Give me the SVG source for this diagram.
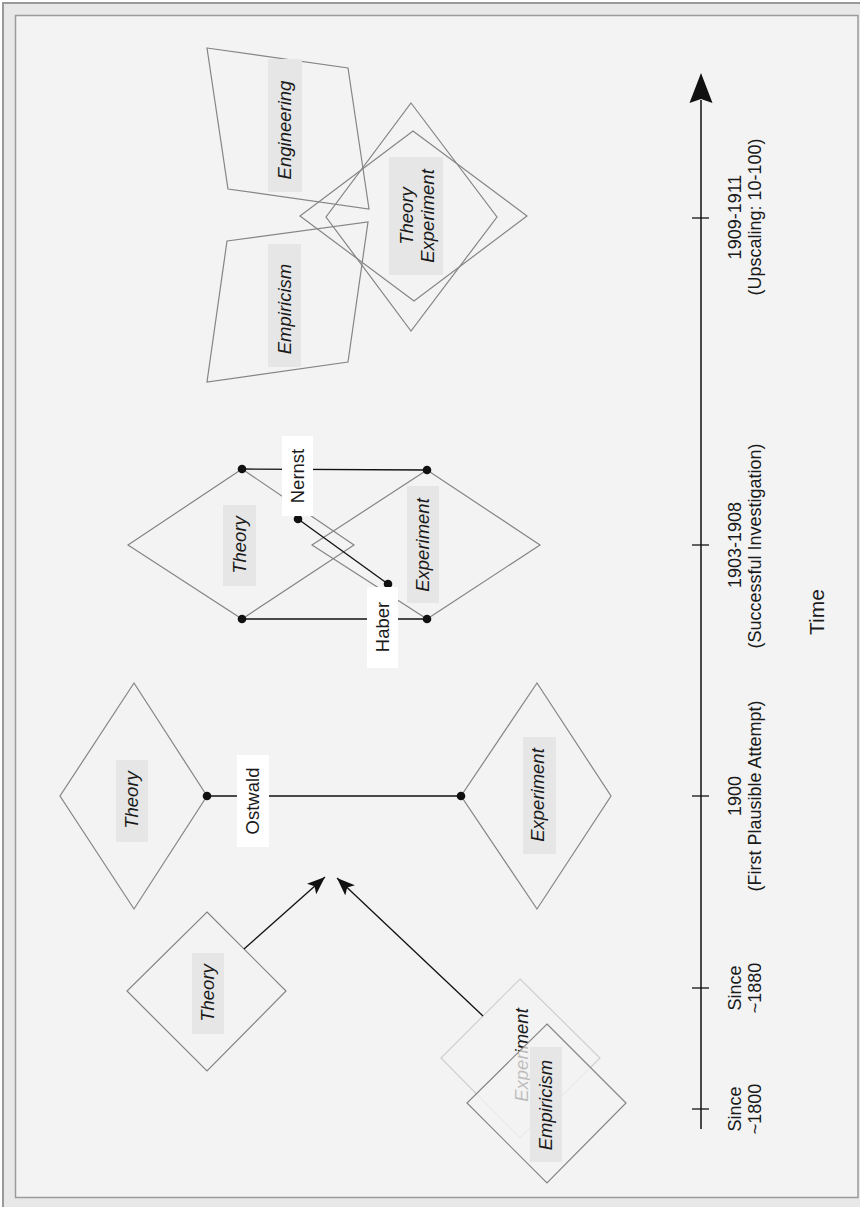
<svg xmlns="http://www.w3.org/2000/svg" width="860" height="1207" viewBox="0 0 860 1207">
<style>
.shape{fill:none;stroke:#858585;stroke-width:1.2}
.faded{fill:none;stroke:#cfcfcf;stroke-width:1.2}
.lbl{fill:#e6e6e6}
.wlbl{fill:#ffffff}
.t{font-family:"Liberation Sans",Arial,sans-serif;font-size:18.5px;fill:#1a1a1a;text-anchor:middle}
.it{font-style:italic}
.ax{font-family:"Liberation Sans",Arial,sans-serif;font-size:18px;fill:#1a1a1a;text-anchor:middle}
.conn{stroke:#111;stroke-width:1.3;fill:none}
.dot{fill:#111}
</style>
<defs>
<marker id="arr" markerWidth="20" markerHeight="16" refX="18" refY="7" orient="auto" markerUnits="userSpaceOnUse">
<path d="M0,0 L18,7 L0,14 L4,7 z" fill="#111"/>
</marker>
</defs>
<rect x="3" y="3" width="870" height="1220" fill="#e8e8e8" stroke="#9a9a9a" stroke-width="2"/>
<rect x="15.5" y="15.5" width="842.5" height="1182" fill="#f3f3f3" stroke="#9a9a9a" stroke-width="1.5"/>

<g id="axis">
<line x1="701" y1="100" x2="701" y2="1129" stroke="#111" stroke-width="1.5"/>
<path d="M701,73 L712.5,103 L701,99 L689.5,103 z" fill="#111"/>
<g stroke="#111" stroke-width="1.3">
<line x1="692" y1="218" x2="709" y2="218"/>
<line x1="692" y1="545" x2="709" y2="545"/>
<line x1="692" y1="796" x2="709" y2="796"/>
<line x1="692" y1="988" x2="709" y2="988"/>
<line x1="692" y1="1109" x2="709" y2="1109"/>
</g>
<g class="ax">
<text transform="translate(735,217) rotate(-90)" dy="0.35em">1909-1911</text>
<text transform="translate(755,217) rotate(-90)" dy="0.35em">(Upscaling: 10-100)</text>
<text transform="translate(735,545) rotate(-90)" dy="0.35em">1903-1908</text>
<text transform="translate(755,546) rotate(-90)" dy="0.35em">(Successful Investigation)</text>
<text transform="translate(735,796) rotate(-90)" dy="0.35em">1900</text>
<text transform="translate(755,796) rotate(-90)" dy="0.35em">(First Plausible Attempt)</text>
<text transform="translate(735,988) rotate(-90)" dy="0.35em">Since</text>
<text transform="translate(755,988) rotate(-90)" dy="0.35em">~1880</text>
<text transform="translate(735,1109) rotate(-90)" dy="0.35em">Since</text>
<text transform="translate(755,1109) rotate(-90)" dy="0.35em">~1800</text>
<text transform="translate(817,612) rotate(-90)" dy="0.35em" style="font-size:21px">Time</text>
</g>
</g>

<!-- 1800/1880 -->
<g id="experiment-1800">
<polygon class="faded" points="520,979 600,1058 520,1138 441,1058"/>
<text class="t it" transform="translate(522,1055) rotate(-90)" dy="0.35em">Experiment</text>
</g>
<g id="empiricism-1800">
<polygon points="547,1024 626,1103 547,1183 467,1103" fill="#f3f3f3" fill-opacity="0.75" stroke="#858585" stroke-width="1.2"/>
<rect class="lbl" x="530" y="1047" width="32" height="115"/>
<text class="t it" transform="translate(546,1105) rotate(-90)" dy="0.35em">Empiricism</text>
</g>
<g id="theory-1880">
<polygon class="shape" points="207,912 286,991 207,1071 127,991"/>
<rect class="lbl" x="192" y="953" width="32" height="81"/>
<text class="t it" transform="translate(208,993) rotate(-90)" dy="0.35em">Theory</text>
</g>

<!-- 1900 -->
<g id="theory-1900">
<polygon class="shape" points="134,683 207,796 134,909 60,796"/>
<rect class="lbl" x="116" y="760" width="32" height="82"/>
<text class="t it" transform="translate(132,800) rotate(-90)" dy="0.35em">Theory</text>
</g>
<g id="experiment-1900">
<polygon class="shape" points="537,683 611,796 537,909 461,796"/>
<rect class="lbl" x="523" y="737" width="33" height="117"/>
<text class="t it" transform="translate(538,795) rotate(-90)" dy="0.35em">Experiment</text>
</g>

<!-- 1903-1908 -->
<g id="theory-1903">
<polygon class="shape" points="242,469 354,545 242,619 128,545"/>
<rect class="lbl" x="223" y="505" width="33" height="81"/>
<text class="t it" transform="translate(240,545) rotate(-90)" dy="0.35em">Theory</text>
</g>
<g id="experiment-1903">
<polygon class="shape" points="427,470 540,545 427,619 312,545"/>
<rect class="lbl" x="407" y="486" width="32" height="117"/>
<text class="t it" transform="translate(423,545) rotate(-90)" dy="0.35em">Experiment</text>
</g>

<!-- 1909-1911 -->
<g id="engineering-1909">
<polygon class="shape" points="207,48 348,68 369,209 228,189"/>
<rect class="lbl" x="268" y="59" width="34" height="133"/>
<text class="t it" transform="translate(285,130) rotate(-90)" dy="0.35em">Engineering</text>
</g>
<g id="empiricism-1909">
<polygon class="shape" points="227,241 368,222 348,362 207,382"/>
<rect class="lbl" x="268" y="244" width="33" height="123"/>
<text class="t it" transform="translate(285,309) rotate(-90)" dy="0.35em">Empiricism</text>
</g>
<g id="theory-experiment-1909">
<polygon class="shape" points="413,131 527,216 414,301 300,216"/>
<polygon class="shape" points="411,103 497,217 411,331 326,217"/>
<rect class="lbl" x="389" y="157" width="54" height="118"/>
<text class="t it" transform="translate(407,216) rotate(-90)" dy="0.35em">Theory</text>
<text class="t it" transform="translate(428,216) rotate(-90)" dy="0.35em">Experiment</text>
</g>

<g id="connectors">
<line class="conn" x1="244" y1="949" x2="325" y2="877" marker-end="url(#arr)"/>
<line class="conn" x1="483" y1="1016" x2="337" y2="878" marker-end="url(#arr)"/>
<line class="conn" x1="207" y1="796" x2="461" y2="796"/>
<line class="conn" x1="242" y1="469" x2="427" y2="470"/>
<line class="conn" x1="242" y1="619" x2="427" y2="619"/>
<line class="conn" x1="298" y1="519" x2="388" y2="584"/>
<g class="dot">
<circle cx="207" cy="796" r="4.3"/>
<circle cx="461" cy="796" r="4.3"/>
<circle cx="242" cy="469" r="4.3"/>
<circle cx="427" cy="470" r="4.3"/>
<circle cx="242" cy="619" r="4.3"/>
<circle cx="427" cy="619" r="4.3"/>
<circle cx="298" cy="519" r="4.3"/>
<circle cx="388" cy="584" r="4.3"/>
</g>
</g>

<g id="label-ostwald">
<rect class="wlbl" x="237" y="755" width="32" height="92"/>
<text class="t" transform="translate(253,801) rotate(-90)" dy="0.35em">Ostwald</text>
</g>
<g id="label-nernst">
<rect class="wlbl" x="282" y="436" width="31" height="80"/>
<text class="t" transform="translate(298,476) rotate(-90)" dy="0.35em">Nernst</text>
</g>
<g id="label-haber">
<rect class="wlbl" x="367" y="587" width="31" height="81"/>
<text class="t" transform="translate(383,627) rotate(-90)" dy="0.35em">Haber</text>
</g>
</svg>
